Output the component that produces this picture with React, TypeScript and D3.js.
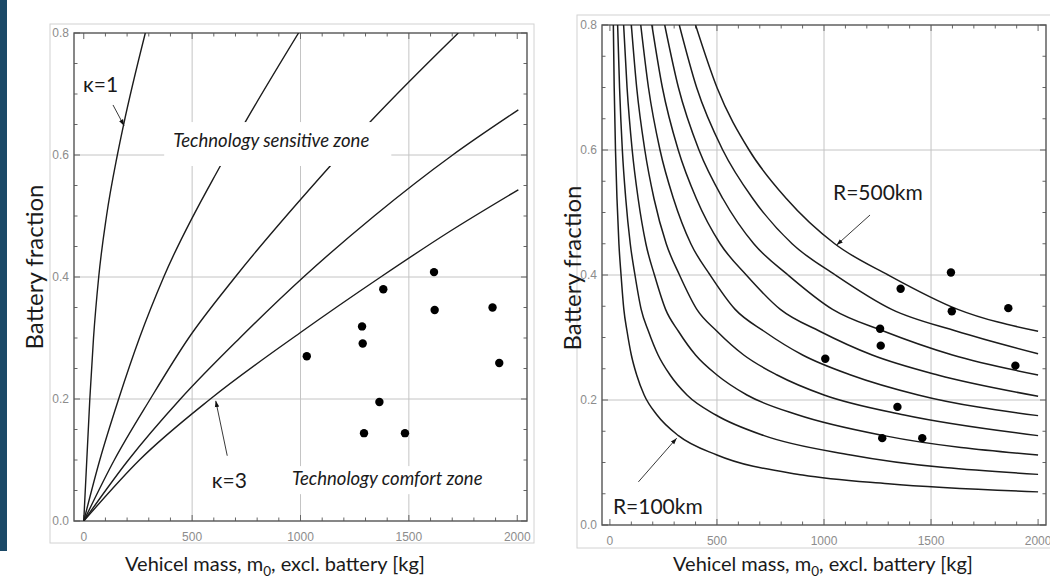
import React from 'react';
import * as d3 from 'd3';

type Pt = [number, number];

// ---------- data ----------
const xMajorTicks = [0, 500, 1000, 1500, 2000];
const xTickLabels = ['0', '500', '1000', '1500', '2000'];
const yMajorTicks = [0, 0.2, 0.4, 0.6, 0.8];
const yTickLabels = ['0.0', '0.2', '0.4', '0.6', '0.8'];
const gridXValues = [500, 1000, 1500];
const gridYValues = [0.2, 0.4, 0.6];
const minorXTicks = d3.range(0, 2001, 100);
const minorYTicks = d3.range(0, 0.8001, 0.05);

// left panel: kappa curves [mass kg, battery fraction]
const kappa1: Pt[] = [[0, 0], [28, 0.2], [45, 0.3], [69, 0.4], [105, 0.5], [155, 0.6], [184, 0.65], [284, 0.8]];
const kappa15: Pt[] = [[0, 0], [74, 0.1], [161, 0.2], [257, 0.3], [369, 0.4], [630, 0.582], [745, 0.654], [991, 0.8]];
const kappa2: Pt[] = [[0, 0], [141, 0.1], [307, 0.2], [484, 0.3], [699, 0.4], [1137, 0.582], [1321, 0.654], [1728, 0.8]];
const kappa25: Pt[] = [[0, 0], [206, 0.1], [446, 0.2], [720, 0.3], [1014, 0.4], [1340, 0.5], [1702, 0.6], [2005, 0.674]];
const kappa3: Pt[] = [[0, 0], [257, 0.1], [584, 0.2], [1000, 0.309], [1370, 0.4], [1690, 0.475], [2005, 0.543]];
const kappaCurves = [kappa1, kappa15, kappa2, kappa25, kappa3];

// vehicles
const vehiclesLeft: Pt[] = [
  [1616, 0.408], [1382, 0.38], [1619, 0.346], [1886, 0.35], [1284, 0.319], [1287, 0.291],
  [1029, 0.27], [1917, 0.259], [1364, 0.195], [1293, 0.144], [1482, 0.144],
];

// right panel: range curves R = 100 ... 500 km
const range100: Pt[] = [[16, 0.8], [20, 0.7], [26, 0.6], [33, 0.522], [42, 0.45], [52, 0.4], [65, 0.345], [80, 0.31], [100, 0.272], [125, 0.24], [160, 0.208], [220, 0.176], [320, 0.143], [500, 0.112], [900, 0.08], [1300, 0.066], [2000, 0.053]];
const range150: Pt[] = [[36, 0.8], [45, 0.7], [58, 0.6], [74, 0.522], [95, 0.45], [117, 0.4], [146, 0.345], [180, 0.31], [225, 0.272], [281, 0.24], [360, 0.208], [495, 0.176], [720, 0.143], [1125, 0.112], [2000, 0.081]];
const range200: Pt[] = [[64, 0.8], [80, 0.7], [104, 0.6], [132, 0.522], [168, 0.45], [208, 0.4], [260, 0.345], [320, 0.31], [400, 0.272], [500, 0.24], [640, 0.208], [880, 0.176], [1280, 0.143], [2000, 0.112]];
const range250: Pt[] = [[100, 0.8], [125, 0.7], [163, 0.6], [206, 0.522], [263, 0.45], [325, 0.4], [406, 0.345], [500, 0.31], [625, 0.272], [781, 0.24], [1000, 0.208], [1375, 0.176], [2000, 0.143]];
const range300: Pt[] = [[144, 0.8], [180, 0.7], [234, 0.6], [297, 0.522], [378, 0.45], [468, 0.4], [585, 0.345], [720, 0.31], [900, 0.272], [1125, 0.24], [1440, 0.208], [2000, 0.175]];
const range350: Pt[] = [[196, 0.8], [245, 0.7], [319, 0.6], [404, 0.522], [515, 0.45], [637, 0.4], [796, 0.345], [980, 0.31], [1225, 0.272], [1531, 0.24], [2000, 0.206]];
const range400: Pt[] = [[256, 0.8], [320, 0.7], [416, 0.6], [528, 0.522], [672, 0.45], [832, 0.4], [1040, 0.345], [1280, 0.31], [1600, 0.272], [2000, 0.24]];
const range450: Pt[] = [[324, 0.8], [405, 0.7], [527, 0.6], [668, 0.522], [851, 0.45], [1053, 0.4], [1316, 0.345], [1620, 0.31], [2000, 0.274]];
const range500: Pt[] = [[400, 0.8], [500, 0.7], [650, 0.6], [825, 0.522], [1050, 0.45], [1300, 0.4], [1625, 0.345], [2000, 0.31]];
const rangeCurves = [range100, range150, range200, range250, range300, range350, range400, range450, range500];

// vehicles
const vehiclesRight: Pt[] = [
  [1593, 0.404], [1358, 0.378], [1597, 0.342], [1861, 0.347], [1262, 0.314], [1265, 0.287],
  [1006, 0.266], [1894, 0.255], [1343, 0.189], [1272, 0.139], [1459, 0.139],
];

// annotations (data coordinates)
const kappa1Label = { text: 'κ=1', at: [-3, 0.703] as Pt, arrowFrom: [135, 0.682] as Pt, arrowTo: [186, 0.648] as Pt };
const kappa3Label = { text: 'κ=3', at: [591, 0.054] as Pt, arrowFrom: [662, 0.107] as Pt, arrowTo: [609, 0.197] as Pt };
const sensitiveZone = { text: 'Technology sensitive zone', at: [865, 0.613] as Pt, box: [371, 1419, 0.582, 0.654] };
const comfortZone = { text: 'Technology comfort zone', at: [1400, 0.059] as Pt, box: [934, 1866, 0.044, 0.09] };
const r500Label = { text: 'R=500km', at: [1042, 0.52] as Pt, arrowFrom: [1215, 0.496] as Pt, arrowTo: [1059, 0.448] as Pt };
const r100Label = { text: 'R=100km', at: [14, 0.0176] as Pt, arrowFrom: [133, 0.069] as Pt, arrowTo: [312, 0.139] as Pt };

const yTitle = 'Battery fraction';

// ---------- drawing ----------
const FONT = 'Lato, "Liberation Sans", Arial, sans-serif';
const TICK_FONT = '"Liberation Sans", Arial, sans-serif';

type Box = { x0: number; x1: number; y0: number; y1: number };

function Frame({ box, x, y, clipId }: { box: Box; x: d3.ScaleLinear<number, number>; y: d3.ScaleLinear<number, number>; clipId: string }) {
  const isMajorX = (v: number) => v % 500 === 0;
  const isMajorY = (v: number) => Math.abs(v * 10 - Math.round(v * 10)) < 1e-6 && Math.round(v * 10) % 2 === 0;
  return (
    <g>
      {gridXValues.map((v) => (
        <line key={'gx' + v} x1={x(v)} x2={x(v)} y1={box.y0} y2={box.y1} stroke="#c4c4c4" strokeWidth={1} />
      ))}
      {gridYValues.map((v) => (
        <line key={'gy' + v} x1={box.x0} x2={box.x1} y1={y(v)} y2={y(v)} stroke="#c4c4c4" strokeWidth={1} />
      ))}
      {minorXTicks.map((v) => {
        const len = isMajorX(v) ? 6 : 3.5;
        return (
          <g key={'tx' + v}>
            <line x1={x(v)} x2={x(v)} y1={box.y1} y2={box.y1 - len} stroke="#666" strokeWidth={1} />
            <line x1={x(v)} x2={x(v)} y1={box.y0} y2={box.y0 + len} stroke="#666" strokeWidth={1} />
          </g>
        );
      })}
      {minorYTicks.map((v) => {
        const len = isMajorY(v) ? 6 : 3.5;
        return (
          <g key={'ty' + v}>
            <line x1={box.x0} x2={box.x0 + len} y1={y(v)} y2={y(v)} stroke="#666" strokeWidth={1} />
            <line x1={box.x1} x2={box.x1 - len} y1={y(v)} y2={y(v)} stroke="#666" strokeWidth={1} />
          </g>
        );
      })}
      <rect x={box.x0} y={box.y0} width={box.x1 - box.x0} height={box.y1 - box.y0} fill="none" stroke="#555" strokeWidth={1.4} />
      {xMajorTicks.map((v, i) => (
        <text key={'lx' + v} x={x(v)} y={box.y1 + 20} textAnchor="middle" fontFamily={TICK_FONT} fontSize={12} fill="#8c8c8c">
          {xTickLabels[i]}
        </text>
      ))}
      {yMajorTicks.map((v, i) => (
        <text key={'ly' + v} x={box.x0 - 5} y={y(v) + 4} textAnchor="end" fontFamily={TICK_FONT} fontSize={12} fill="#8c8c8c">
          {yTickLabels[i]}
        </text>
      ))}
      <clipPath id={clipId}>
        <rect x={box.x0} y={box.y0} width={box.x1 - box.x0} height={box.y1 - box.y0} />
      </clipPath>
    </g>
  );
}

function XTitle({ cx, y }: { cx: number; y: number }) {
  return (
    <text x={cx} y={y} textAnchor="middle" fontFamily={FONT} fontSize={20} fill="#1a1a1a">
      <tspan>Vehicel mass, m</tspan>
      <tspan dy={5} fontSize={13.5}>0</tspan>
      <tspan dy={-5}>, excl. battery [kg]</tspan>
    </text>
  );
}

export default function App() {
  const L: Box = { x0: 74, x1: 527, y0: 33, y1: 521 };
  const R: Box = { x0: 602, x1: 1046, y0: 25, y1: 525 };
  const xL = d3.scaleLinear().domain([-45, 2045]).range([L.x0, L.x1]);
  const yL = d3.scaleLinear().domain([0, 0.8]).range([L.y1, L.y0]);
  const xR = d3.scaleLinear().domain([-37, 2037]).range([R.x0, R.x1]);
  const yR = d3.scaleLinear().domain([0, 0.8]).range([R.y1, R.y0]);

  const lineL = d3.line<Pt>().x((d) => xL(d[0])).y((d) => yL(d[1])).curve(d3.curveMonotoneX);
  const lineR = d3.line<Pt>().x((d) => xR(d[0])).y((d) => yR(d[1])).curve(d3.curveMonotoneX);

  const zoneBox = (z: { box: number[] }) => (
    <rect
      x={xL(z.box[0])}
      y={yL(z.box[3])}
      width={xL(z.box[1]) - xL(z.box[0])}
      height={yL(z.box[2]) - yL(z.box[3])}
      fill="#fff"
    />
  );

  return (
    <svg width={1050} height={586} style={{ position: 'absolute', left: 0, top: 0, background: '#fff' }}>
      <defs>
        <marker id="ah" viewBox="0 0 10 10" refX={10} refY={5} markerWidth={7} markerHeight={7} orient="auto">
          <path d="M0,1.5 L10,5 L0,8.5 z" fill="#111" />
        </marker>
      </defs>
      <rect x={0} y={0} width={1050} height={586} fill="#fff" />
      <rect x={0} y={0} width={7} height={551} fill="#1b4967" />

      {/* ---------------- left panel ---------------- */}
      <rect x={50} y={24} width={484} height={519} fill="none" stroke="#d2d2d2" strokeWidth={1} />
      <Frame box={L} x={xL} y={yL} clipId="clipL" />
      <g clipPath="url(#clipL)">
        {kappaCurves.map((c, i) => (
          <path key={'k' + i} d={lineL(c) || ''} fill="none" stroke="#1c1c1c" strokeWidth={1.4} />
        ))}
      </g>
      {zoneBox(sensitiveZone)}
      {zoneBox(comfortZone)}
      <text x={xL(sensitiveZone.at[0])} y={yL(sensitiveZone.at[1])} textAnchor="middle" fontFamily={FONT} fontStyle="italic" fontSize={18.5} fill="#1a1a1a">
        {sensitiveZone.text}
      </text>
      <text x={xL(comfortZone.at[0])} y={yL(comfortZone.at[1])} textAnchor="middle" fontFamily={FONT} fontStyle="italic" fontSize={18.5} fill="#1a1a1a">
        {comfortZone.text}
      </text>
      {vehiclesLeft.map((d, i) => (
        <circle key={'vl' + i} cx={xL(d[0])} cy={yL(d[1])} r={4.2} fill="#000" />
      ))}
      {[kappa1Label, kappa3Label].map((a, i) => (
        <g key={'ka' + i}>
          <line x1={xL(a.arrowFrom[0])} y1={yL(a.arrowFrom[1])} x2={xL(a.arrowTo[0])} y2={yL(a.arrowTo[1])} stroke="#222" strokeWidth={0.9} markerEnd="url(#ah)" />
          <text x={xL(a.at[0])} y={yL(a.at[1])} fontFamily={FONT} fontSize={21} fill="#1a1a1a">
            {a.text}
          </text>
        </g>
      ))}
      <text transform={`translate(43, 267) rotate(-90)`} textAnchor="middle" fontFamily={FONT} fontSize={24} fill="#1a1a1a">
        {yTitle}
      </text>
      <XTitle cx={275} y={571} />

      {/* ---------------- right panel ---------------- */}
      <rect x={577} y={15} width={480} height={533} fill="none" stroke="#d2d2d2" strokeWidth={1} />
      <Frame box={R} x={xR} y={yR} clipId="clipR" />
      <g clipPath="url(#clipR)">
        {rangeCurves.map((c, i) => (
          <path key={'r' + i} d={lineR(c) || ''} fill="none" stroke="#1c1c1c" strokeWidth={1.5} />
        ))}
      </g>
      {vehiclesRight.map((d, i) => (
        <circle key={'vr' + i} cx={xR(d[0])} cy={yR(d[1])} r={4.2} fill="#000" />
      ))}
      {[r500Label, r100Label].map((a, i) => (
        <g key={'ra' + i}>
          <line x1={xR(a.arrowFrom[0])} y1={yR(a.arrowFrom[1])} x2={xR(a.arrowTo[0])} y2={yR(a.arrowTo[1])} stroke="#222" strokeWidth={0.9} markerEnd="url(#ah)" />
          <text x={xR(a.at[0])} y={yR(a.at[1])} fontFamily={FONT} fontSize={21} fill="#1a1a1a">
            {a.text}
          </text>
        </g>
      ))}
      <text transform={`translate(581, 268) rotate(-90)`} textAnchor="middle" fontFamily={FONT} fontSize={24} fill="#1a1a1a">
        {yTitle}
      </text>
      <XTitle cx={823} y={571} />
    </svg>
  );
}
